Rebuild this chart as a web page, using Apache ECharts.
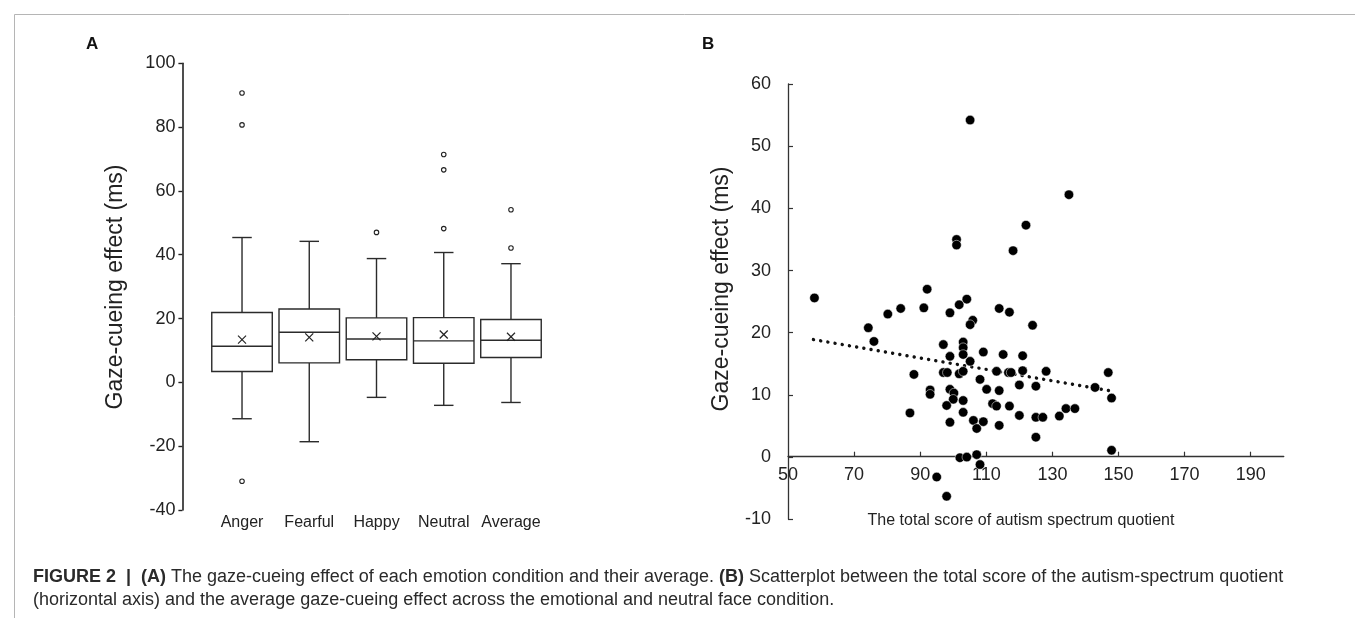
<!DOCTYPE html>
<html><head><meta charset="utf-8">
<script src="https://cdn.jsdelivr.net/npm/echarts@6/dist/echarts.min.js"></script>
<style>html,body{margin:0;padding:0;background:#fff}#c{width:1355px;height:618px}</style>
</head><body><div id="c"></div>
<script>
// ---- Panel A: box plot values (ms)
const categories = ['Anger', 'Fearful', 'Happy', 'Neutral', 'Average'];
const whiskerLow  = [-11.4, -18.6, -4.7, -7.2, -6.3];
const q1          = [3.4, 6.1, 7.1, 6.0, 7.8];
const median      = [11.3, 15.7, 13.6, 13.0, 13.2];
const q3          = [21.9, 23.0, 20.2, 20.3, 19.7];
const whiskerHigh = [45.4, 44.2, 38.8, 40.7, 37.2];
const means       = [13.4, 14.1, 14.4, 15.0, 14.3];
const outlierCat  = [0, 0, 0, 2, 3, 3, 3, 4, 4];
const outlierVal  = [90.7, 80.7, -31.0, 47.0, 71.4, 66.6, 48.2, 54.1, 42.1];

// ---- Panel B: scatter values
const aqScore = [58.0, 92.1, 101.0, 101.0, 105.1, 118.1, 122.0, 135.0,
  104.1, 101.8, 99.0, 91.1, 84.1, 80.2, 74.3, 76.0, 105.9, 105.1, 97.0, 103.0, 103.0, 103.0, 99.0, 109.1, 105.1,
  88.1, 97.0, 98.2, 101.8, 103.0, 108.1, 110.1, 93.0, 93.0, 99.0, 100.2, 100.0, 103.0, 98.0, 86.9, 103.0, 99.0,
  106.1, 109.1, 107.1, 102.0, 104.1, 107.1, 108.1, 95.0, 98.0,
  113.9, 117.0, 124.0, 115.1, 121.0, 113.1, 116.7, 117.5, 121.0, 128.1, 146.9, 120.0, 125.0, 142.9, 113.9, 147.9,
  111.9, 113.1, 117.0, 134.1, 136.8, 132.1, 120.0, 125.0, 127.1, 113.9, 125.0, 147.9];
const cueingEffect = [25.6, 27.0, 35.0, 34.1, 54.2, 33.2, 37.3, 42.2,
  25.4, 24.5, 23.2, 24.0, 23.9, 23.0, 20.8, 18.6, 22.0, 21.3, 18.1, 18.5, 17.6, 16.5, 16.2, 16.9, 15.4,
  13.3, 13.6, 13.6, 13.4, 13.8, 12.5, 10.9, 10.8, 10.1, 10.9, 10.3, 9.3, 9.1, 8.3, 7.1, 7.2, 5.6,
  5.9, 5.7, 4.6, -0.1, 0.0, 0.4, -1.2, -3.2, -6.3,
  23.9, 23.3, 21.2, 16.5, 16.3, 13.8, 13.6, 13.6, 13.9, 13.8, 13.6, 11.6, 11.4, 11.2, 10.7, 9.5,
  8.6, 8.2, 8.2, 7.8, 7.8, 6.6, 6.7, 6.4, 6.4, 5.1, 3.2, 1.1];
const trendX = [57.7, 147.1];
const trendY = [18.9, 10.7];
const xLabelsB = [50, 70, 90, 110, 130, 150, 170, 190];

const FONT = "'Liberation Sans', Arial, sans-serif";
const INK = '#222';

const boxData = categories.map((c, i) => [i, whiskerLow[i], q1[i], median[i], q3[i], whiskerHigh[i], means[i]]);
const outlierData = outlierCat.map((c, i) => [c, outlierVal[i]]);
const scatterData = aqScore.map((x, i) => [x, cueingEffect[i]]);
const trendData = trendX.map((x, i) => [x, trendY[i]]);

function renderBox(params, api) {
  const i = api.value(0);
  const lo = api.coord([i, api.value(1)]);
  const b = api.coord([i, api.value(2)]);
  const m = api.coord([i, api.value(3)]);
  const t = api.coord([i, api.value(4)]);
  const hi = api.coord([i, api.value(5)]);
  const mn = api.coord([i, api.value(6)]);
  const band = api.size([1, 0])[0];
  const hw = band * 0.45, cw = band * 0.145, x = b[0];
  const st = { stroke: '#2b2b2b', lineWidth: 1.4 };
  const ln = (x1, y1, x2, y2) => ({ type: 'line', shape: { x1, y1, x2, y2 }, style: st });
  return {
    type: 'group',
    children: [
      ln(x, t[1], x, hi[1]),
      ln(x - cw, hi[1], x + cw, hi[1]),
      ln(x, b[1], x, lo[1]),
      ln(x - cw, lo[1], x + cw, lo[1]),
      { type: 'rect', shape: { x: x - hw, y: t[1], width: hw * 2, height: b[1] - t[1] }, style: { fill: '#fff', stroke: '#2b2b2b', lineWidth: 1.4 } },
      ln(x - hw, m[1], x + hw, m[1]),
      { type: 'line', shape: { x1: mn[0] - 4, y1: mn[1] - 4, x2: mn[0] + 4, y2: mn[1] + 4 }, style: { stroke: '#222', lineWidth: 1.2 } },
      { type: 'line', shape: { x1: mn[0] - 4, y1: mn[1] + 4, x2: mn[0] + 4, y2: mn[1] - 4 }, style: { stroke: '#222', lineWidth: 1.2 } }
    ]
  };
}

const chart = echarts.init(document.getElementById('c'), null, { renderer: 'canvas' });
chart.setOption({
  backgroundColor: '#fff',
  animation: false,
  textStyle: { fontFamily: FONT },
  title: [
    { text: 'A', left: 81, top: 31, textStyle: { fontFamily: FONT, fontSize: 17, fontWeight: 'bold', color: '#111' } },
    { text: 'B', left: 697, top: 31, textStyle: { fontFamily: FONT, fontSize: 17, fontWeight: 'bold', color: '#111' } },
    {
      text: '{b|FIGURE 2  |  (A)} The gaze-cueing effect of each emotion condition and their average. {b|(B)} Scatterplot between the total score of the autism-spectrum quotient\n(horizontal axis) and the average gaze-cueing effect across the emotional and neutral face condition.',
      left: 28, top: 561,
      textStyle: {
        fontFamily: FONT, fontSize: 18, fontWeight: 'normal', color: '#2a2a2a', lineHeight: 23,
        rich: { b: { fontFamily: FONT, fontSize: 18, fontWeight: 'bold', color: '#2a2a2a', lineHeight: 23 } }
      }
    }
  ],
  graphic: [
    { type: 'line', shape: { x1: 14.5, y1: 14.5, x2: 1355, y2: 14.5 }, style: { stroke: '#b5b5b5', lineWidth: 1 } },
    { type: 'line', shape: { x1: 14.5, y1: 14.5, x2: 14.5, y2: 618 }, style: { stroke: '#b5b5b5', lineWidth: 1 } },
    { type: 'text', x: 116, y: 287, rotation: Math.PI / 2, style: { text: 'Gaze-cueing effect (ms)', font: '23px ' + FONT, fill: INK, align: 'center', verticalAlign: 'middle' } },
    { type: 'text', x: 722, y: 289, rotation: Math.PI / 2, style: { text: 'Gaze-cueing effect (ms)', font: '23px ' + FONT, fill: INK, align: 'center', verticalAlign: 'middle' } },
    { type: 'text', x: 1021, y: 521, style: { text: 'The total score of autism spectrum quotient', font: '16px ' + FONT, fill: INK, align: 'center', verticalAlign: 'middle' } }
  ],
  grid: [
    { left: 208.4, right: 810.4, top: 63.3, bottom: 108 },
    { left: 788, right: 71.25, top: 84, bottom: 98.7 }
  ],
  xAxis: [
    {
      gridIndex: 0, type: 'category', data: categories, boundaryGap: true,
      axisLine: { show: false }, axisTick: { show: false },
      axisLabel: { interval: 0, fontSize: 16, color: INK, margin: 5, fontFamily: FONT }
    },
    {
      gridIndex: 1, type: 'value', min: 50, max: 200, offset: -62.6,
      splitLine: { show: false },
      axisLine: { onZero: false, lineStyle: { color: '#333', width: 1.3 } },
      axisTick: { inside: true, length: 5, customValues: xLabelsB.slice(1), lineStyle: { color: '#333', width: 1.2 } },
      axisLabel: { customValues: xLabelsB, fontSize: 18, color: INK, margin: 9, fontFamily: FONT }
    }
  ],
  yAxis: [
    {
      gridIndex: 0, type: 'value', min: -40, max: 100, interval: 20, offset: 26,
      splitLine: { show: false },
      axisLine: { show: true, lineStyle: { color: '#222', width: 1.6 } },
      axisTick: { show: true, inside: false, length: 4, lineStyle: { color: '#222', width: 1.4 } },
      axisLabel: { fontSize: 18, color: INK, margin: 7, fontFamily: FONT }
    },
    {
      gridIndex: 1, type: 'value', min: -10, max: 60, interval: 10,
      splitLine: { show: false },
      axisLine: { show: true, onZero: false, lineStyle: { color: '#333', width: 1.3 } },
      axisTick: { show: true, inside: true, length: 5, lineStyle: { color: '#333', width: 1.2 } },
      axisLabel: { fontSize: 18, color: INK, margin: 17, fontFamily: FONT }
    }
  ],
  series: [
    { type: 'custom', xAxisIndex: 0, yAxisIndex: 0, renderItem: renderBox, data: boxData, encode: { x: 0, y: [1, 2, 3, 4, 5, 6] }, z: 2 },
    { type: 'scatter', xAxisIndex: 0, yAxisIndex: 0, data: outlierData, symbol: 'circle', symbolSize: 4.5,
      itemStyle: { color: '#fff', borderColor: '#222', borderWidth: 1.1, opacity: 1 }, z: 3 },
    { type: 'line', xAxisIndex: 1, yAxisIndex: 1, data: trendData, showSymbol: false, symbol: 'none',
      lineStyle: { color: '#111', width: 3.4, type: [0.1, 7.2], cap: 'round' }, z: 2 },
    { type: 'scatter', xAxisIndex: 1, yAxisIndex: 1, data: scatterData, symbol: 'circle', symbolSize: 9.5,
      itemStyle: { color: '#000', borderColor: '#fff', borderWidth: 0.5, opacity: 1 }, z: 3 }
  ]
});
</script>
</body></html>
